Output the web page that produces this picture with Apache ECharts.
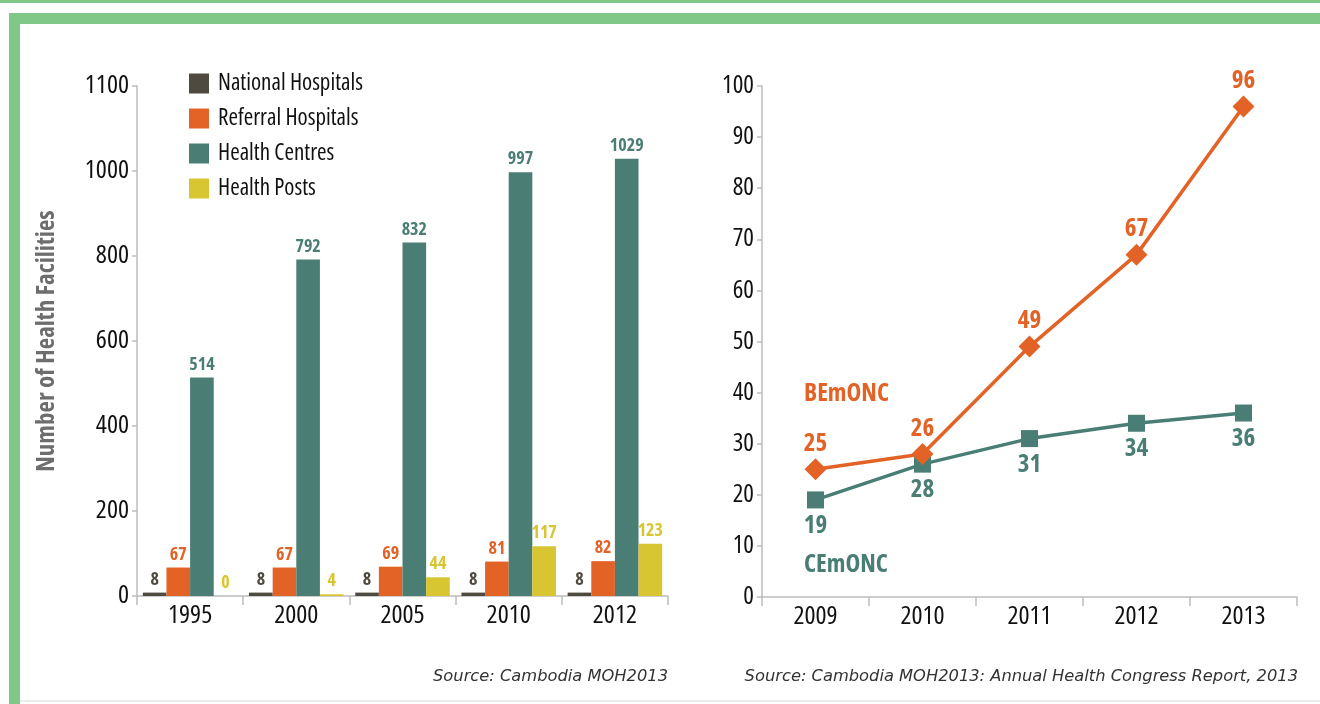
<!DOCTYPE html>
<html><head><meta charset="utf-8">
<script src="https://cdn.jsdelivr.net/npm/echarts@6/dist/echarts.min.js"></script>
<style>html,body{margin:0;padding:0;background:#fff;}#c{width:1320px;height:704px;}</style>
</head><body><div id="c"></div>
<script>
const years = ['1995','2000','2005','2010','2012'];
const nationalHospitals = [8,8,8,8,8];
const referralHospitals = [67,67,69,81,82];
const healthCentres = [514,792,832,997,1029];
const healthPosts = [0,4,44,117,123];
const leftTickLabels = ['0','200','400','600','800','1000','1100'];

const lineYears = ['2009','2010','2011','2012','2013'];
const bemonc = [25,28,49,67,96];
const bemoncLabels = ['25','26','49','67','96'];
const cemonc = [19,26,31,34,36];
const cemoncLabels = ['19','28','31','34','36'];

const COND = "'Open Sans'";
const FS = 'condensed';
const C_NAT='#4f4a3f', C_REF='#e36327', C_HC='#4a7e75', C_HP='#d8c532';
const GREEN='#80c887';
const axisGray='#bdbdbd';

const chart = echarts.init(document.getElementById('c'), null, {renderer:'canvas'});
function barSeries(name, data, color){
  return {name, type:'bar', data, xAxisIndex:0, yAxisIndex:0, barGap:'0%', barCategoryGap:'11%',
    itemStyle:{color}, label:{show:true, position:'top', distance:4, color, fontFamily:COND, fontStyle:FS, fontWeight:'bold', fontSize:18}};
}
chart.setOption({
  animation:false,
  textStyle:{fontFamily:COND},
  grid:[{left:137, top:86, width:531, height:510},{left:762, top:86, width:535, height:511}],
  legend:{left:189, top:72, padding:0, orient:'vertical', itemWidth:20, itemHeight:20, itemGap:12,
    icon:'rect', textStyle:{fontFamily:COND, fontStyle:FS, fontSize:23, color:'#111', padding:[0,0,0,4]},
    data:['National Hospitals','Referral Hospitals','Health Centres','Health Posts']},
  xAxis:[
    {type:'category', gridIndex:0, data:years, axisLine:{lineStyle:{color:axisGray, width:1.5}},
     axisTick:{show:true, length:9, lineStyle:{color:axisGray, width:1.5}},
     axisLabel:{color:'#111', fontSize:26, fontFamily:COND, fontStyle:FS, margin:7}},
    {type:'category', gridIndex:1, data:lineYears, boundaryGap:true, axisLine:{lineStyle:{color:axisGray, width:1.5}},
     axisTick:{show:true, length:9, lineStyle:{color:axisGray, width:1.5}},
     axisLabel:{color:'#111', fontSize:26, fontFamily:COND, fontStyle:FS, margin:7}}
  ],
  yAxis:[
    {type:'value', gridIndex:0, min:0, max:1200, interval:200,
     name:'Number of Health Facilities', nameLocation:'middle', nameGap:78, nameRotate:90,
     nameTextStyle:{color:'#6d6d6d', fontSize:25, fontWeight:'bold', fontFamily:COND, fontStyle:FS},
     axisLine:{show:true, lineStyle:{color:axisGray, width:1.5}},
     axisTick:{show:true, length:5, lineStyle:{color:axisGray, width:1.5}},
     splitLine:{show:false},
     axisLabel:{color:'#111', fontSize:26, fontFamily:COND, fontStyle:FS, margin:8,
       formatter:(v)=>leftTickLabels[Math.round(v/200)]}},
    {type:'value', gridIndex:1, min:0, max:100, interval:10,
     axisLine:{show:true, lineStyle:{color:axisGray, width:1.5}},
     axisTick:{show:true, length:5, lineStyle:{color:axisGray, width:1.5}},
     splitLine:{show:false},
     axisLabel:{color:'#111', fontSize:25, fontFamily:COND, fontStyle:FS, margin:8}}
  ],
  series:[
    barSeries('National Hospitals', nationalHospitals, C_NAT),
    barSeries('Referral Hospitals', referralHospitals, C_REF),
    barSeries('Health Centres', healthCentres, C_HC),
    barSeries('Health Posts', healthPosts, C_HP),
    {name:'CEmONC', type:'line', xAxisIndex:1, yAxisIndex:1, data:cemonc, symbol:'rect', symbolSize:17,
     lineStyle:{color:C_HC, width:3.5}, itemStyle:{color:C_HC},
     label:{show:true, position:'bottom', distance:5, color:C_HC, fontFamily:COND, fontStyle:FS, fontWeight:'bold', fontSize:25,
       formatter:(p)=>cemoncLabels[p.dataIndex]}},
    {name:'BEmONC', type:'line', xAxisIndex:1, yAxisIndex:1, data:bemonc, symbol:'diamond', symbolSize:22,
     lineStyle:{color:C_REF, width:3.5}, itemStyle:{color:C_REF},
     label:{show:true, position:'top', distance:2, color:C_REF, fontFamily:COND, fontStyle:FS, fontWeight:'bold', fontSize:25,
       formatter:(p)=>bemoncLabels[p.dataIndex]}}
  ],
  graphic:[
    {type:'rect', shape:{x:0,y:0,width:1320,height:3}, style:{fill:GREEN}, silent:true},
    {type:'rect', shape:{x:9,y:13,width:1311,height:11}, style:{fill:GREEN}, silent:true},
    {type:'rect', shape:{x:9,y:13,width:11,height:691}, style:{fill:GREEN}, silent:true},
    {type:'rect', shape:{x:20,y:700,width:1300,height:2}, style:{fill:'#ececec'}, silent:true},
    {type:'text', left:804, top:381, style:{text:'BEmONC', fill:C_REF, font:"condensed bold 25px 'Open Sans'"}},
    {type:'text', left:804, top:552, style:{text:'CEmONC', fill:C_HC, font:"condensed bold 25px 'Open Sans'"}},
    {type:'text', right:652, top:669, style:{text:'Source: Cambodia MOH2013', fill:'#333', font:"italic 16.3px 'DejaVu Sans',sans-serif"}},
    {type:'text', right:22, top:669, style:{text:'Source: Cambodia MOH2013: Annual Health Congress Report, 2013', fill:'#333', font:"italic 16.3px 'DejaVu Sans',sans-serif"}}
  ]
});
</script></body></html>
